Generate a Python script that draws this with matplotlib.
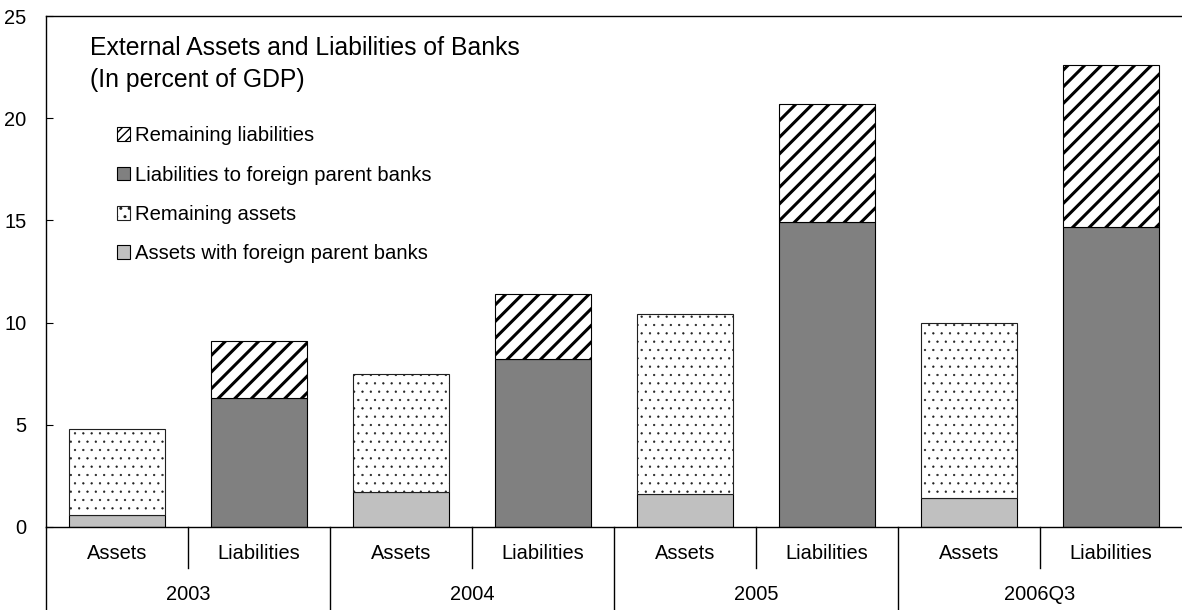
import matplotlib
matplotlib.use('Agg')
import matplotlib.pyplot as plt
from matplotlib.patches import Patch
from matplotlib.transforms import blended_transform_factory

plt.rcParams['font.family'] = ['Liberation Sans', 'DejaVu Sans']

years = ['2003', '2004', '2005', '2006Q3']
sides = ['Assets', 'Liabilities']

assets_parent = [0.6, 1.7, 1.6, 1.4]
assets_remaining = [4.2, 5.8, 8.8, 8.6]
liab_parent = [6.3, 8.2, 14.9, 14.7]
liab_remaining = [2.8, 3.2, 5.8, 7.9]

fig = plt.figure(figsize=(11.82, 6.10), dpi=100)
ax = fig.add_axes([46 / 1182, 83 / 610, 1136 / 1182, 511 / 610])

xa = [2 * i for i in range(len(years))]
xl = [2 * i + 1 for i in range(len(years))]
w = 0.67

# assets: parent-bank part at the bottom, dotted remainder on top
b1 = ax.bar(xa, assets_parent, w, color='#c0c0c0', edgecolor='black', linewidth=0.8)
b2 = ax.bar(xa, assets_remaining, w, bottom=assets_parent, color='white',
            edgecolor='#202020', linewidth=0.8, hatch='..')

# liabilities: parent-bank part at the bottom, striped remainder on top
b3 = ax.bar(xl, liab_parent, w, color='#808080', edgecolor='black', linewidth=0.8)
b4 = ax.bar(xl, liab_remaining, w, bottom=liab_parent, color='white',
            edgecolor='black', linewidth=0.8, hatch='//')


def hatch_lw(patches, lw):
    for p in patches:
        if hasattr(p, 'set_hatch_linewidth'):
            p.set_hatch_linewidth(lw)


hatch_lw(b2, 0.4)
hatch_lw(b4, 2.2)

ax.set_xlim(-0.5, 2 * len(years) - 0.5)
ax.set_ylim(0, 25)
ax.set_yticks(range(0, 26, 5))
ax.tick_params(axis='y', direction='in', length=5, labelsize=14.4, pad=14)
ax.set_xticks(xa + xl)
ax.set_xticklabels([sides[0]] * len(xa) + [sides[1]] * len(xl))
ax.tick_params(axis='x', length=0, labelsize=14.4, pad=12)

ax.spines['right'].set_visible(False)
for s in ['left', 'top', 'bottom']:
    ax.spines[s].set_color('black')
    ax.spines[s].set_linewidth(1)

# category dividers below the axis
tr = blended_transform_factory(ax.transData, ax.transAxes)
for i in range(len(years)):
    ax.plot([2 * i + 0.5] * 2, [0, -0.08], transform=tr, color='black',
            lw=1, clip_on=False)
for i in range(len(years)):
    ax.plot([2 * i - 0.5] * 2, [0, -0.165], transform=tr, color='black',
            lw=1, clip_on=False)
for i, y in enumerate(years):
    ax.text(2 * i + 0.5, -0.133, y, transform=tr, ha='center', va='center',
            fontsize=14.4)

ax.text(0.0387, 0.96, 'External Assets and Liabilities of Banks\n(In percent of GDP)',
        transform=ax.transAxes, ha='left', va='top', fontsize=17.8,
        linespacing=1.42)

# legend proxies, listed top-down in stacking order reversed
h_rl = Patch(facecolor='white', edgecolor='black', hatch='////', linewidth=0.8)
h_lp = Patch(facecolor='#808080', edgecolor='black', linewidth=0.8)
h_ra = Patch(facecolor='white', edgecolor='#202020', hatch='..', linewidth=0.8)
h_ap = Patch(facecolor='#c0c0c0', edgecolor='black', linewidth=0.8)
hatch_lw([h_rl], 2.0)
hatch_lw([h_ra], 0.4)

ax.legend([h_rl, h_lp, h_ra, h_ap],
          ['Remaining liabilities', 'Liabilities to foreign parent banks',
           'Remaining assets', 'Assets with foreign parent banks'],
          loc='upper left', bbox_to_anchor=(0.055, 0.80), frameon=False,
          fontsize=14.6, handlelength=0.65, handleheight=0.65,
          handletextpad=0.25, labelspacing=1.0, borderaxespad=0)

fig.savefig('out.png', dpi=100)
